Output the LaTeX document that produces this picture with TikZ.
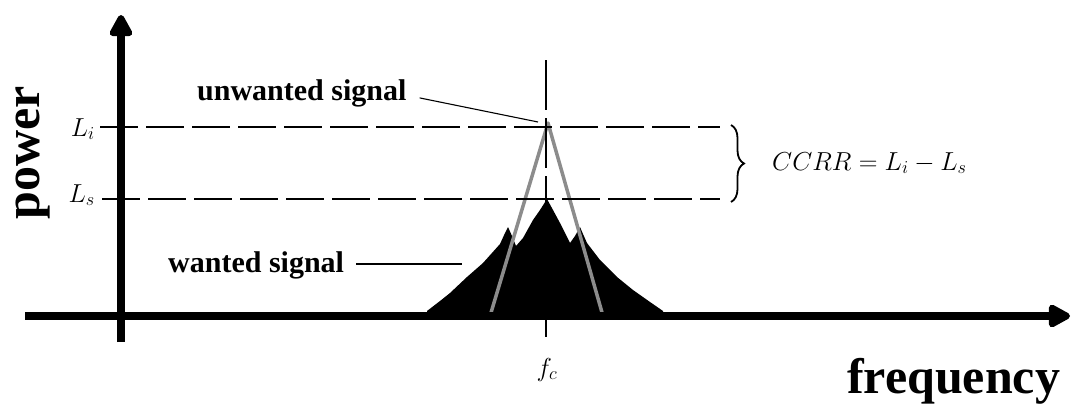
\RequirePackage{fix-cm}
\documentclass[tikz,border=0pt]{standalone}
\usepackage{fontspec}
\setmainfont{Liberation Serif}
\usetikzlibrary{arrows.meta,decorations.pathreplacing}
\begin{document}
\begin{tikzpicture}[x=1pt,y=-1pt,
  axis/.style={line width=7.5pt,-{Triangle[length=25pt,width=25pt,round]}},
  guide/.style={line width=1.3pt,dash pattern=on 38pt off 8pt},
  leader/.style={line width=1.1pt},
  boldlbl/.style={font=\fontsize{30}{36}\selectfont\bfseries,inner sep=0pt},
  biglbl/.style={font=\fontsize{50}{60}\selectfont\bfseries,inner sep=0pt},
  mathlbl/.style={font=\fontsize{26}{31}\selectfont,inner sep=0pt},
  graytri/.style={draw=black!45,line width=3.5pt,line join=round}]
\useasboundingbox (0,0) rectangle (1078,407);

% coordinates
\coordinate (ybot) at (121,342);
\coordinate (ytop) at (121,15);
\coordinate (xleft) at (25,316);
\coordinate (xright) at (1070,316);
\coordinate (peak) at (548,123);

% wanted signal (black spectrum)
\fill[black] (427,316) -- (427,311) -- (440,301) -- (450,293) -- (467,277) -- (483,263)
  -- (500,244) -- (505,233) -- (508,227) -- (512,236) -- (516,246)
  -- (523,238) -- (533,220) -- (540,210) -- (547,199) -- (553,210) -- (560,223)
  -- (570,243) -- (575,236) -- (580,227) -- (583,234) -- (587,243) -- (600,260)
  -- (617,277) -- (633,290) -- (650,302) -- (663,311) -- (663,316) -- cycle;

% unwanted signal (gray)
\coordinate (gl) at (490,316);
\coordinate (gr) at (603,316);
\draw[graytri] (gl) -- (peak) -- (gr);

% guide lines
\coordinate (fctop) at (546,60);
\coordinate (fcbot) at (546,337);
\draw[guide,dash pattern=on 50pt off 8pt] (fctop) -- (fcbot);
\coordinate (lia) at (100,127);
\coordinate (lib) at (720,127);
\coordinate (lsa) at (102,199);
\coordinate (lsb) at (720,199);
\draw[guide] (lia) -- (lib);
\draw[guide] (lsa) -- (lsb);

% axes
\draw[axis] (ybot) -- (ytop);
\draw[axis] (xleft) -- (xright);

% labels
\node[mathlbl,anchor=base east] (Li) at (95,136) {$L_i$};
\node[mathlbl,anchor=base east] (Ls) at (95,202) {$L_s$};
\node[mathlbl,anchor=base] (fc) at (547,376) {$f_c$};
\node[boldlbl,anchor=base west] (unwanted) at (197,100) {unwanted signal};
\node[boldlbl,anchor=base west] (wanted) at (168,272) {wanted signal};
\node[biglbl,anchor=base west] (freq) at (847,393) {frequency};
\node[biglbl,rotate=90,anchor=base,text height=24pt,text depth=11pt] (power) at (39,153) {power};

% leaders
\coordinate (uend) at (538,122);
\coordinate (wend) at (462,264);
\draw[leader] ([xshift=13pt,yshift=-5pt]unwanted.east) -- (uend);
\draw[leader] ([xshift=12pt]wanted.east |- wend) -- (wend);

% brace and formula
\coordinate (bt) at (731,125);
\coordinate (bb) at (731,202);
\draw[line width=1.8pt,decorate,decoration={brace,amplitude=13pt}] (bt) -- (bb);
\node[mathlbl,anchor=base west] (ccrr) at (772,170) {$CCRR=L_i-L_s$};
\end{tikzpicture}
\end{document}
